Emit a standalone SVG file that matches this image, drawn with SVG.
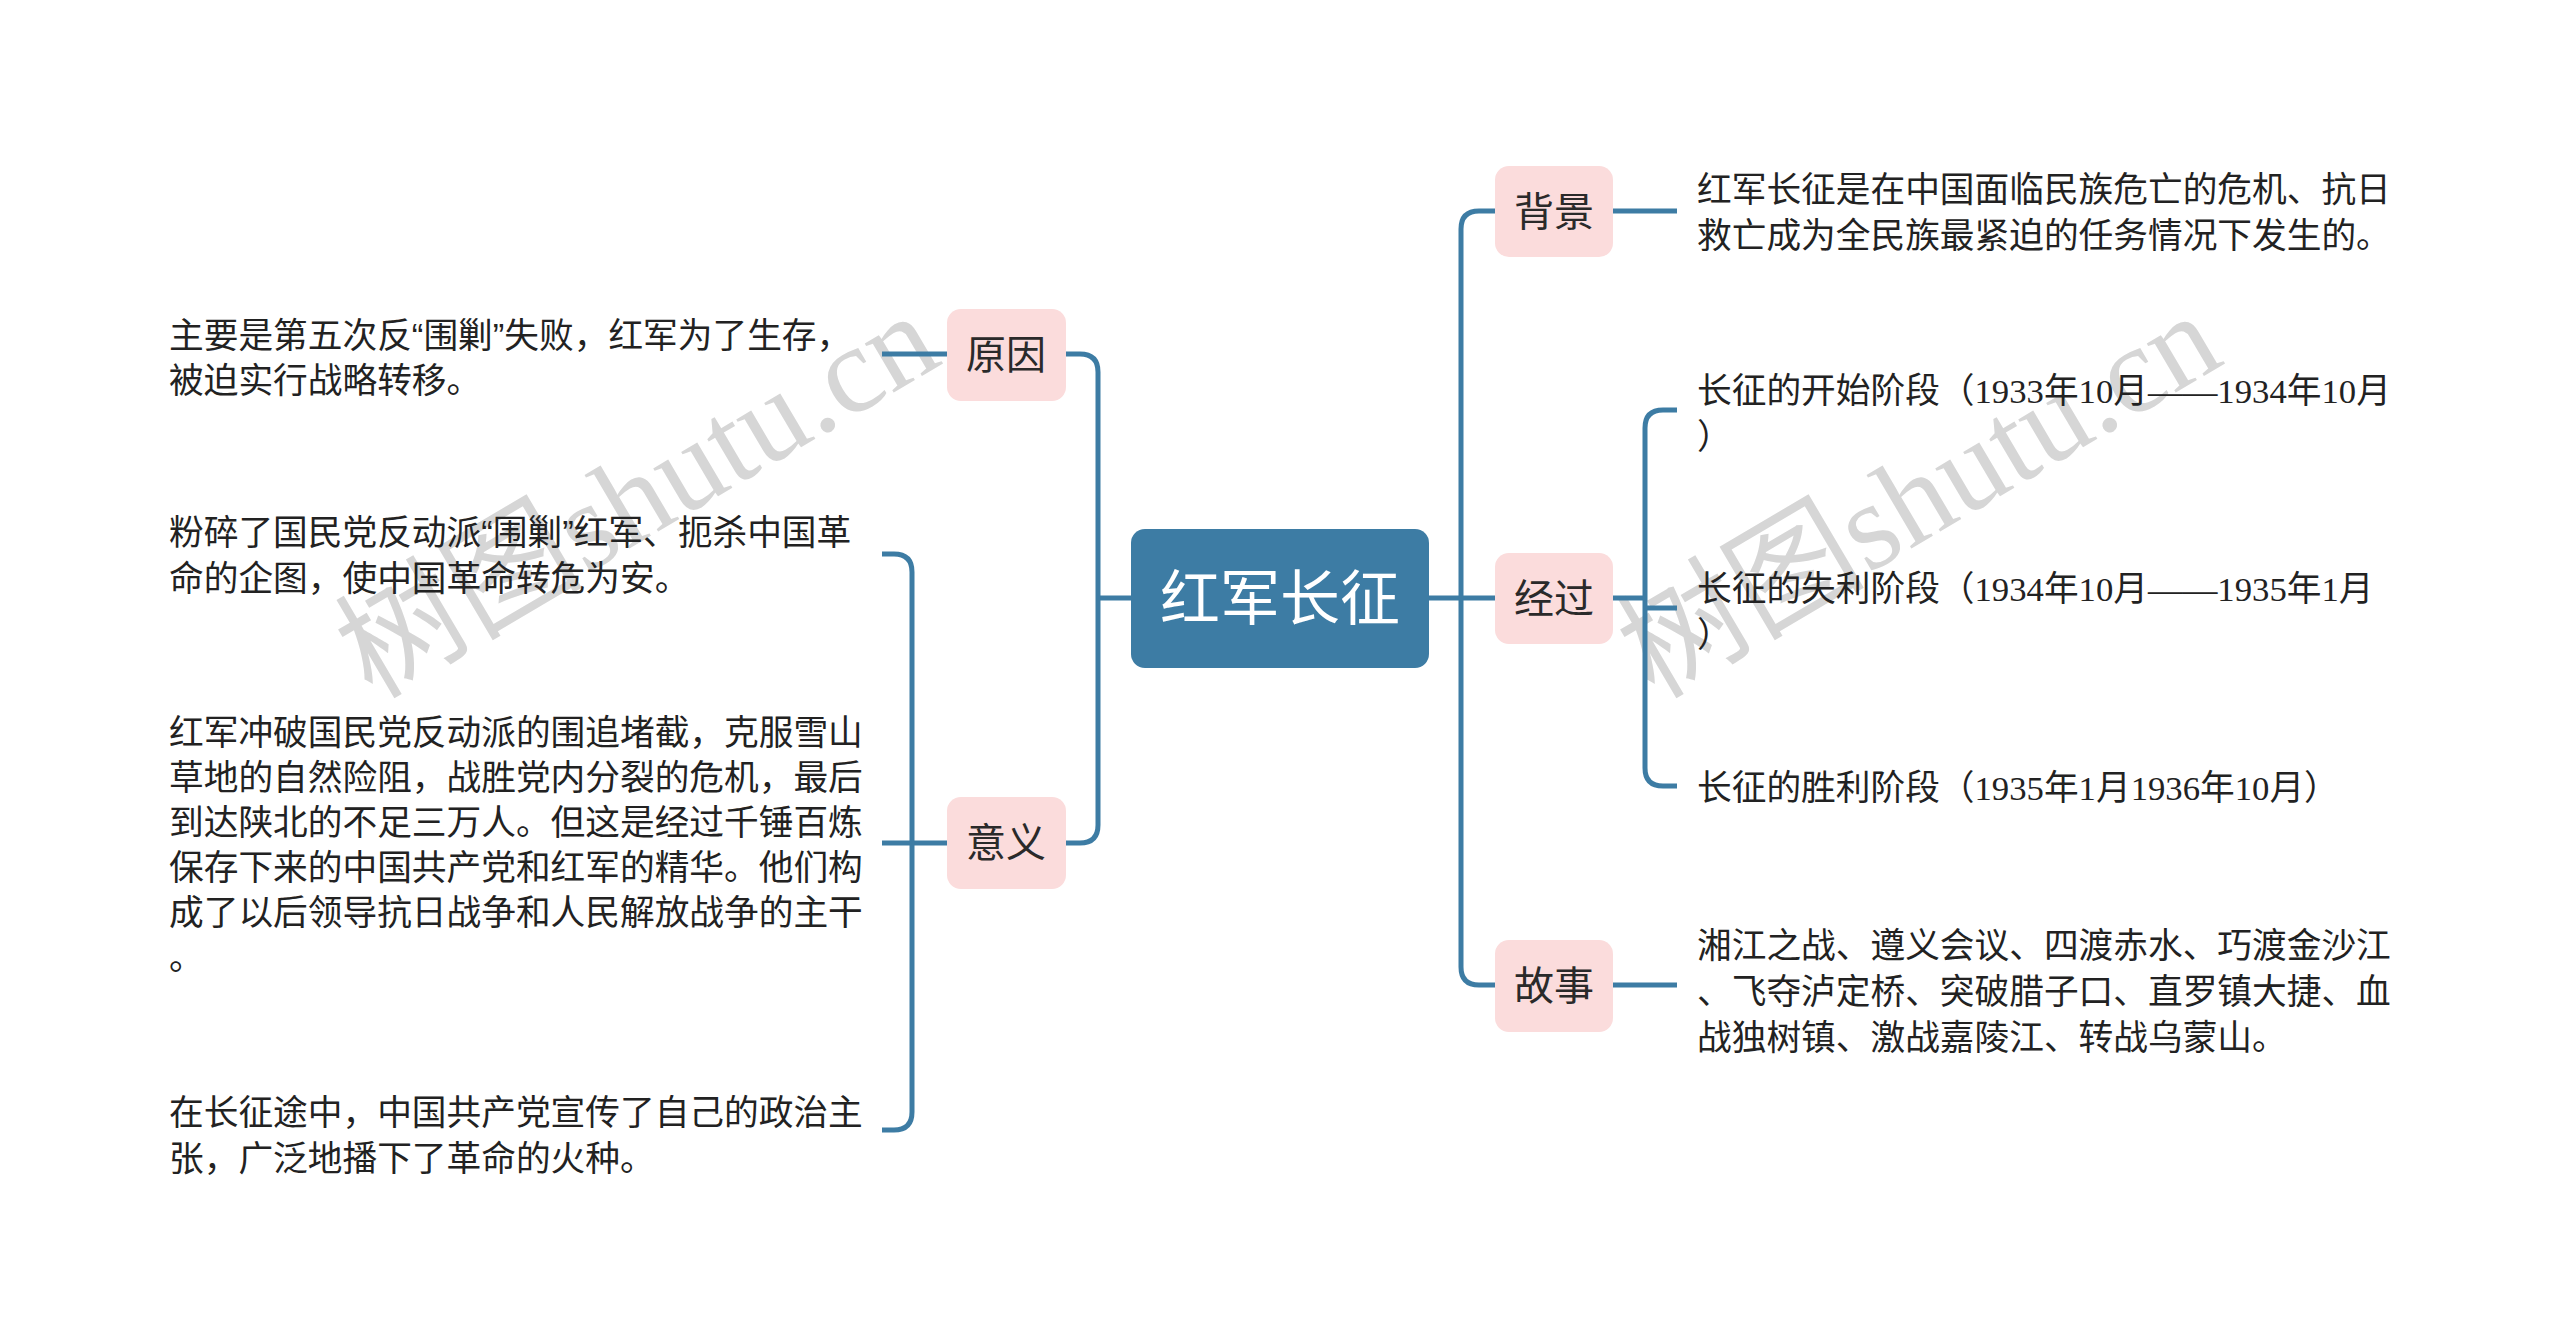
<svg xmlns="http://www.w3.org/2000/svg" width="2560" height="1343" viewBox="0 0 2560 1343">
<style>
.wm{font-family:"Liberation Serif","Noto Sans CJK SC",serif;font-size:124px;fill:#d6d6d6}
.ln{fill:none;stroke:#3d7ca4;stroke-width:5}
.sub{fill:#fbdcdc}
.lbl{font-family:"Noto Sans CJK SC",sans-serif;font-size:40px;fill:#2a2a2a;text-anchor:middle}
.t{font-family:"Noto Sans CJK SC",sans-serif;font-size:34.7px;fill:#222}
.d{font-family:"Liberation Serif","Noto Sans CJK SC",serif}
.q{font-family:"Liberation Sans",sans-serif}
</style>
<rect width="2560" height="1343" fill="#ffffff"/>
<g id="watermarks">
<text class="wm" transform="translate(372,700) rotate(-30.5)">树图shutu.cn</text>
<text class="wm" transform="translate(1654,700) rotate(-30.5)">树图shutu.cn</text>
</g>
<g id="connectors">
<path class="ln" d="M1131,598 H1098"/>
<path class="ln" d="M1066,354 H1080 Q1098,354 1098,372 V825 Q1098,843 1080,843 H1066"/>
<path class="ln" d="M947,354 H882"/>
<path class="ln" d="M947,843 H882"/>
<path class="ln" d="M882,554 H894 Q912,554 912,572 V1112 Q912,1130 894,1130 H882"/>
<path class="ln" d="M1429,598 H1496"/>
<path class="ln" d="M1496,211 H1479 Q1461,211 1461,229 V967 Q1461,985 1479,985 H1496"/>
<path class="ln" d="M1613,211 H1677"/>
<path class="ln" d="M1613,985 H1677"/>
<path class="ln" d="M1613,598 H1645"/>
<path class="ln" d="M1677,410 H1663 Q1645,410 1645,428 V768 Q1645,786 1663,786 H1677"/>
<path class="ln" d="M1645,608 H1677"/>
</g>
<g id="root">
<rect x="1131" y="529" width="298" height="139" rx="14" fill="#3d7ca4"/>
<text x="1280" y="620" font-family="Noto Sans CJK SC, sans-serif" font-size="60" fill="#ffffff" text-anchor="middle">红军长征</text>
</g>
<g id="node-beijing">
<rect class="sub" x="1495" y="166" width="118" height="91" rx="14"/>
<text class="lbl" x="1554" y="226">背景</text>
</g>
<g id="node-jingguo">
<rect class="sub" x="1495" y="553" width="118" height="91" rx="14"/>
<text class="lbl" x="1554" y="613">经过</text>
</g>
<g id="node-gushi">
<rect class="sub" x="1495" y="940" width="118" height="92" rx="14"/>
<text class="lbl" x="1554" y="1000">故事</text>
</g>
<g id="node-yuanyin">
<rect class="sub" x="947" y="309" width="119" height="92" rx="14"/>
<text class="lbl" x="1006" y="369">原因</text>
</g>
<g id="node-yiyi">
<rect class="sub" x="947" y="797" width="119" height="92" rx="14"/>
<text class="lbl" x="1006" y="857">意义</text>
</g>
<g id="text-beijing">
<text class="t" x="1697" y="202">红军长征是在中国面临民族危亡的危机、抗日<tspan x="1697" y="248">救亡成为全民族最紧迫的任务情况下发生的。</tspan></text>
</g>
<g id="text-jingguo-1">
<text class="t" x="1697" y="403">长征的开始阶段（<tspan class="d">1933</tspan>年<tspan class="d">10</tspan>月<tspan class="d">——1934</tspan>年<tspan class="d">10</tspan>月<tspan x="1697" y="449">）</tspan></text>
</g>
<g id="text-jingguo-2">
<text class="t" x="1697" y="601">长征的失利阶段（<tspan class="d">1934</tspan>年<tspan class="d">10</tspan>月<tspan class="d">——1935</tspan>年<tspan class="d">1</tspan>月<tspan x="1697" y="647">）</tspan></text>
</g>
<g id="text-jingguo-3">
<text class="t" x="1697" y="800">长征的胜利阶段（<tspan class="d">1935</tspan>年<tspan class="d">1</tspan>月<tspan class="d">1936</tspan>年<tspan class="d">10</tspan>月）</text>
</g>
<g id="text-gushi">
<text class="t" x="1697" y="958">湘江之战、遵义会议、四渡赤水、巧渡金沙江<tspan x="1697" y="1004">、飞夺泸定桥、突破腊子口、直罗镇大捷、血</tspan><tspan x="1697" y="1050">战独树镇、激战嘉陵江、转战乌蒙山。</tspan></text>
</g>
<g id="text-yuanyin">
<text class="t" x="169" y="348">主要是第五次反<tspan class="q">“</tspan>围剿<tspan class="q">”</tspan>失败，红军为了生存，<tspan x="169" y="393">被迫实行战略转移。</tspan></text>
</g>
<g id="text-yiyi-1">
<text class="t" x="169" y="545">粉碎了国民党反动派<tspan class="q">“</tspan>围剿<tspan class="q">”</tspan>红军、扼杀中国革<tspan x="169" y="591">命的企图，使中国革命转危为安。</tspan></text>
</g>
<g id="text-yiyi-2">
<text class="t" x="169" y="745">红军冲破国民党反动派的围追堵截，克服雪山<tspan x="169" y="790">草地的自然险阻，战胜党内分裂的危机，最后</tspan><tspan x="169" y="835">到达陕北的不足三万人。但这是经过千锤百炼</tspan><tspan x="169" y="880">保存下来的中国共产党和红军的精华。他们构</tspan><tspan x="169" y="925">成了以后领导抗日战争和人民解放战争的主干</tspan><tspan x="169" y="970">。</tspan></text>
</g>
<g id="text-yiyi-3">
<text class="t" x="169" y="1125">在长征途中，中国共产党宣传了自己的政治主<tspan x="169" y="1171">张，广泛地播下了革命的火种。</tspan></text>
</g>
</svg>
